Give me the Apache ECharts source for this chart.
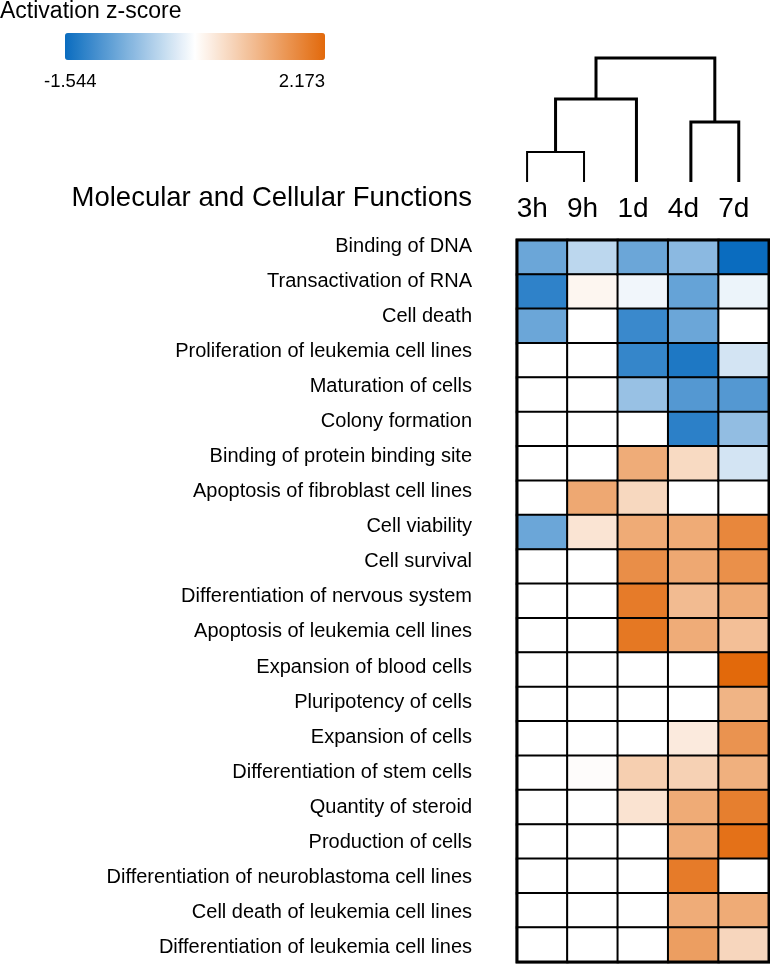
<!DOCTYPE html>
<html>
<head>
<meta charset="utf-8">
<script src="https://cdn.jsdelivr.net/npm/echarts@6/dist/echarts.min.js"></script>
<style>html,body{margin:0;padding:0;background:#fff;}#chart{width:770px;height:965px;}</style>
</head>
<body>
<div id="chart"></div>
<script>
// ---- data ----
const columns = ['3h', '9h', '1d', '4d', '7d'];
const functions = [
  'Binding of DNA',
  'Transactivation of RNA',
  'Cell death',
  'Proliferation of leukemia cell lines',
  'Maturation of cells',
  'Colony formation',
  'Binding of protein binding site',
  'Apoptosis of fibroblast cell lines',
  'Cell viability',
  'Cell survival',
  'Differentiation of nervous system',
  'Apoptosis of leukemia cell lines',
  'Expansion of blood cells',
  'Pluripotency of cells',
  'Expansion of cells',
  'Differentiation of stem cells',
  'Quantity of steroid',
  'Production of cells',
  'Differentiation of neuroblastoma cell lines',
  'Cell death of leukemia cell lines',
  'Differentiation of leukemia cell lines'
];
// activation z-scores per time point (null = not reported, white cell)
const z3h = [-0.93, -1.31, -0.93, null, null, null, null, null, -0.93, null, null, null, null, null, null, null, null, null, null, null, null];
const z9h = [-0.42, 0.13, null, null, null, null, null, 1.26, 0.39, null, null, null, null, null, null, 0.04, null, null, null, null, null];
const z1d = [-0.93, -0.09, -1.24, -1.27, -0.65, null, 1.20, 0.57, 1.22, 1.63, 1.91, 1.96, null, null, null, 0.70, 0.41, null, null, null, null];
const z4d = [-0.73, -0.97, -0.93, -1.42, -1.08, -1.33, 0.54, null, 1.22, 1.26, 0.98, 1.20, null, null, 0.30, 0.67, 1.22, 1.20, 1.91, 1.20, 1.41];
const z7d = [-1.544, -0.12, null, -0.28, -1.08, -0.69, -0.28, null, 1.74, 1.61, 1.22, 0.93, 2.173, 1.09, 1.56, 1.15, 1.85, 2.06, null, 1.22, 0.59];
const zMin = -1.544;
const zMax = 2.173;
const colorbarLabels = ['-1.544', '2.173'];
// dendrogram: leaf positions (column units) and merges [childA, childB, height]
const dendroLeafPos = [0.2, 1.33, 2.37, 3.45, 4.4];
const dendroMerges = [[0, 1, 30], [5, 2, 83], [3, 4, 60], [6, 7, 124]];

// ---- build ----
const FONT = '"Liberation Sans", Arial, sans-serif';
const zCols = [z3h, z9h, z1d, z4d, z7d];
const heatData = [];
zCols.forEach((col, c) => {
  col.forEach((z, r) => {
    let t = 0;
    if (z != null) t = z < 0 ? z / Math.abs(zMin) : z / zMax;
    heatData.push([c, r, t, z]);
  });
});

const nodeX = dendroLeafPos.slice();
const nodeH = dendroLeafPos.map(() => 0);
const dendroData = [];
dendroMerges.forEach(([a, b, h]) => {
  dendroData.push([nodeX[a], nodeH[a], nodeX[b], nodeH[b], h]);
  nodeX.push((nodeX[a] + nodeX[b]) / 2);
  nodeH.push(h);
});
const dendroTop = Math.max(...dendroMerges.map(m => m[2]));

const chart = echarts.init(document.getElementById('chart'), null, { renderer: 'canvas' });
chart.setOption({
  animation: false,
  backgroundColor: '#fff',
  title: [
    { text: 'Activation z-score', left: 0, top: 0, padding: 0,
      textStyle: { fontFamily: FONT, fontSize: 23, fontWeight: 'normal', color: '#000' } },
    { text: 'Molecular and Cellular Functions', right: 298, top: 184.5, padding: 0,
      textStyle: { fontFamily: FONT, fontSize: 27.5, fontWeight: 'normal', color: '#000' } },
    { text: colorbarLabels[0], left: 44, top: 72, padding: 0,
      textStyle: { fontFamily: FONT, fontSize: 18.5, fontWeight: 'normal', color: '#000' } },
    { text: colorbarLabels[1], right: 445, top: 72, padding: 0,
      textStyle: { fontFamily: FONT, fontSize: 18.5, fontWeight: 'normal', color: '#000' } }
  ],
  visualMap: {
    type: 'continuous',
    min: -1, max: 1,
    dimension: 2,
    seriesIndex: 0,
    orient: 'horizontal',
    left: 65, top: 33,
    itemWidth: 27, itemHeight: 260,
    padding: 0,
    calculable: false,
    realtime: false,
    text: null,
    showLabel: false,
    inRange: { color: ['#0a6cbf', '#ffffff', '#e2690b'] }
  },
  grid: [
    { left: 517, top: 240, width: 252, height: 722, show: true, borderColor: '#000', borderWidth: 3, backgroundColor: 'transparent', z: 10 },
    { left: 472, top: 228.85, width: 40, height: 741.3 },
    { left: 517, top: 58, width: 252, height: 124 }
  ],
  xAxis: [
    { gridIndex: 0, type: 'category', data: columns, position: 'top',
      axisLine: { show: false }, axisTick: { show: false }, splitLine: { show: false },
      axisLabel: { fontFamily: FONT, fontSize: 28, color: '#000', margin: 17, padding: [0, 20, 0, 0] } },
    { gridIndex: 1, type: 'value', show: false },
    { gridIndex: 2, type: 'value', min: 0, max: columns.length, show: false }
  ],
  yAxis: [
    { gridIndex: 0, type: 'category', data: functions, inverse: true,
      axisLine: { show: false }, axisTick: { show: false }, axisLabel: { show: false }, splitLine: { show: false } },
    { gridIndex: 1, type: 'category', data: functions, inverse: true, position: 'left',
      axisLine: { show: false }, axisTick: { show: false }, splitLine: { show: false },
      axisLabel: { fontFamily: FONT, fontSize: 20, color: '#000', margin: 0 } },
    { gridIndex: 2, type: 'value', min: 0, max: dendroTop, show: false }
  ],
  series: [
    {
      type: 'heatmap', xAxisIndex: 0, yAxisIndex: 0,
      data: heatData,
      encode: { x: 0, y: 1, value: 2 },
      itemStyle: { borderColor: '#000', borderWidth: 2 },
      emphasis: { disabled: true },
      silent: true
    },
    {
      type: 'custom', xAxisIndex: 2, yAxisIndex: 2,
      data: dendroData,
      encode: { x: [0, 2], y: [1, 3, 4] },
      silent: true,
      renderItem: function (params, api) {
        const x1 = api.value(0), h1 = api.value(1), x2 = api.value(2), h2 = api.value(3), hm = api.value(4);
        const pts = [api.coord([x1, h1]), api.coord([x1, hm]), api.coord([x2, hm]), api.coord([x2, h2])];
        return {
          type: 'polyline',
          shape: { points: pts },
          style: { stroke: '#000', lineWidth: hm < 40 ? 2 : 3, fill: null }
        };
      }
    }
  ]
});
</script>
</body>
</html>
